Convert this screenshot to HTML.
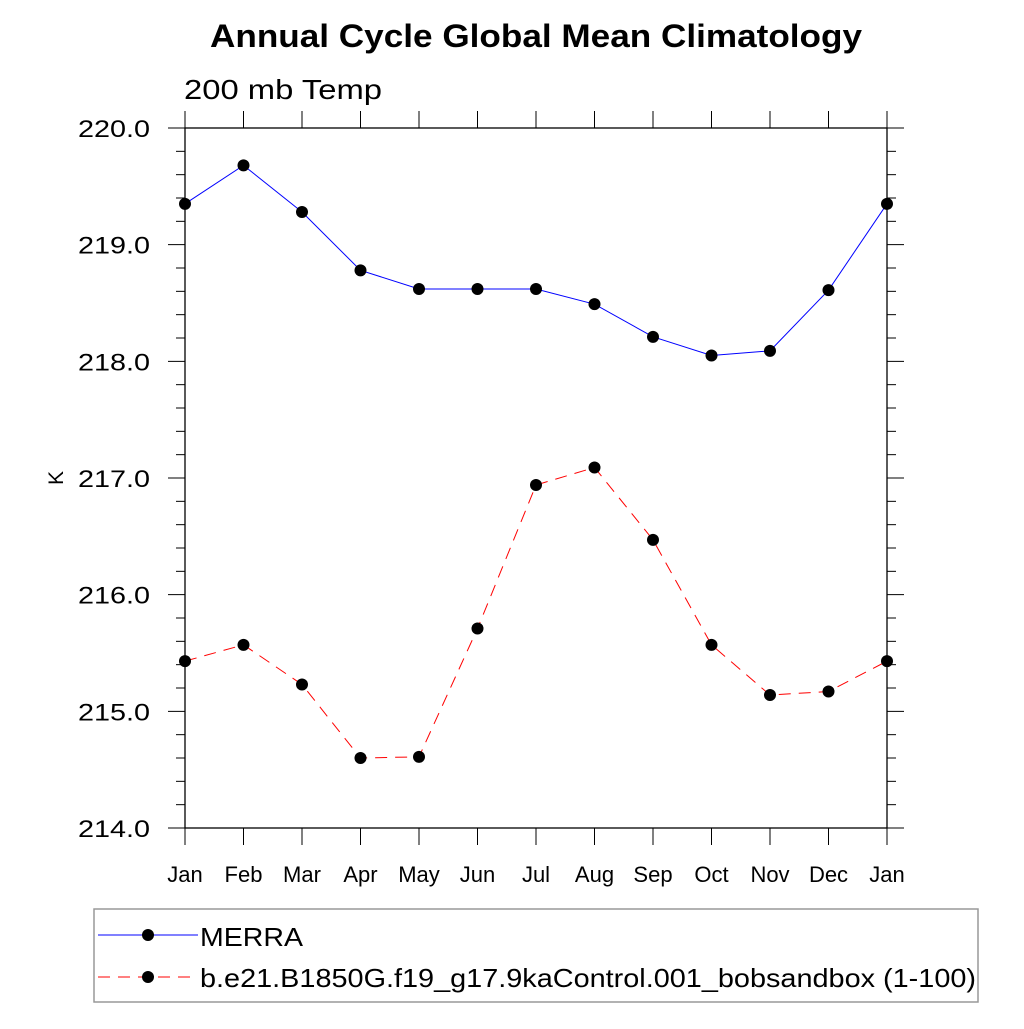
<!DOCTYPE html>
<html><head><meta charset="utf-8"><style>
body{margin:0;background:#fff;}
svg text{font-family:"Liberation Sans",sans-serif;}
</style></head><body>
<svg id="c" width="1024" height="1024" xmlns="http://www.w3.org/2000/svg">
<text x="210" y="47" font-size="32" font-weight="bold" textLength="652" lengthAdjust="spacingAndGlyphs">Annual Cycle Global Mean Climatology</text>
<text x="184" y="99" font-size="28" textLength="198" lengthAdjust="spacingAndGlyphs">200 mb Temp</text>
<text transform="translate(63,478) rotate(-90)" font-size="21" text-anchor="middle">K</text>
<g id="axes"></g>
<g id="series"></g>
<rect x="94" y="909" width="884" height="93" fill="none" stroke="#999" stroke-width="1.5"/>
<g>
<line x1="98" y1="935" x2="198" y2="935" stroke="#0000ff" stroke-width="1"/>
<circle cx="148" cy="935" r="6" fill="#000"/>
<text x="200" y="946" font-size="26" textLength="103" lengthAdjust="spacingAndGlyphs">MERRA</text>
</g>
<g>
<line x1="98" y1="977" x2="198" y2="977" stroke="#ff0000" stroke-width="1" stroke-dasharray="12,8"/>
<circle cx="148" cy="977" r="6" fill="#000"/>
<text x="200" y="987" font-size="26" textLength="776" lengthAdjust="spacingAndGlyphs">b.e21.B1850G.f19_g17.9kaControl.001_bobsandbox (1-100)</text>
</g>
</svg>
<script>
const months=["Jan","Feb","Mar","Apr","May","Jun","Jul","Aug","Sep","Oct","Nov","Dec","Jan"];
const merra=[219.35,219.68,219.28,218.78,218.62,218.62,218.62,218.49,218.21,218.05,218.09,218.61,219.35];
const model=[215.43,215.57,215.23,214.60,214.61,215.71,216.94,217.09,216.47,215.57,215.14,215.17,215.43];
const yTicks=[214,215,216,217,218,219,220];
const X0=185,X1=887,Y0=828,Y1=128,YMIN=214,YMAX=220;
const xs=i=>X0+(X1-X0)*i/(months.length-1);
const ys=v=>Y0-(Y0-Y1)*(v-YMIN)/(YMAX-YMIN);
const NS="http://www.w3.org/2000/svg";
const ax=document.getElementById('axes'),se=document.getElementById('series');
function mk(p,t,a){const e=document.createElementNS(NS,t);for(const k in a)e.setAttribute(k,a[k]);p.appendChild(e);return e;}
const fr=mk(ax,'rect',{x:X0,y:Y1,width:X1-X0,height:Y0-Y1,fill:'none',stroke:'#000','stroke-width':1.3});


for(let v=YMIN;v<=YMAX+1e-9;v+=0.2){
 const major=Math.abs(v-Math.round(v))<1e-6,y=ys(v),L=major?17:9;
 mk(ax,'line',{x1:X0-L,y1:y,x2:X0,y2:y,stroke:'#000','stroke-width':1});
 mk(ax,'line',{x1:X1,y1:y,x2:X1+L,y2:y,stroke:'#000','stroke-width':1});
}
yTicks.forEach(v=>{
 const t=mk(ax,'text',{x:150,y:ys(v)+9,'font-size':24,'text-anchor':'end',textLength:72,lengthAdjust:'spacingAndGlyphs'});
 t.textContent=v.toFixed(1);
 
 
});
months.forEach((m,i)=>{
 const x=xs(i);
 mk(ax,'line',{x1:x,y1:Y0,x2:x,y2:Y0+17,stroke:'#000','stroke-width':1});
 mk(ax,'line',{x1:x,y1:Y1-17,x2:x,y2:Y1,stroke:'#000','stroke-width':1});
 const t=mk(ax,'text',{x:x,y:882,'font-size':22,'text-anchor':'middle'});
 t.textContent=m;
 
 
});
function draw(vals,color,dash,name){
 const g=mk(se,'g',{});
 
 
 const p=mk(g,'polyline',{points:vals.map((v,i)=>xs(i)+','+ys(v)).join(' '),fill:'none',stroke:color,'stroke-width':1});
 if(dash)p.setAttribute('stroke-dasharray',dash);
 vals.forEach((v,i)=>{
  const c=mk(g,'circle',{cx:xs(i),cy:ys(v),r:6,fill:'#000'});
  
  
 });
}
draw(merra,'#0000ff',null,'series-merra');
draw(model,'#ff0000','12,8','series-model');
</script>
</body></html>
